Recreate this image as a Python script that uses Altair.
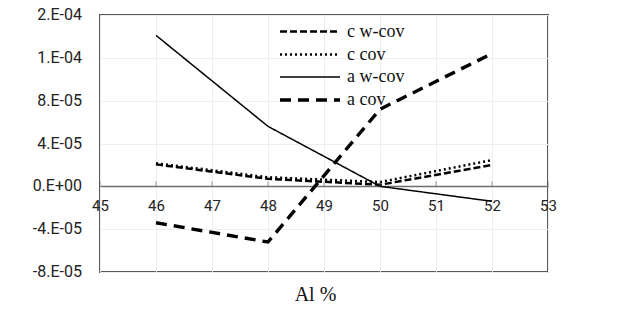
import altair as alt
import pandas as pd

x_vals = [46, 48, 50, 52]
c_wcov = [2.05e-5, 7.0e-6, 1.5e-6, 2.0e-5]
c_cov = [2.15e-5, 8.5e-6, 4.0e-6, 2.45e-5]
a_wcov = [1.41e-4, 5.6e-5, 0.0, -1.4e-5]
a_cov = [-3.4e-5, -5.2e-5, 7.2e-5, 1.24e-4]

series_names = ["c w-cov", "c cov", "a w-cov", "a cov"]
series_data = [c_wcov, c_cov, a_wcov, a_cov]

y_ticks = [-8e-5, -4e-5, 0.0, 4e-5, 8e-5, 1.2e-4, 1.6e-4]
y_labels = ["-8.E-05", "-4.E-05", "0.E+00", "4.E-05", "8.E-05", "1.E-04", "2.E-04"]
x_ticks = [45, 46, 47, 48, 49, 50, 51, 52, 53]

rows = []
for name, vals in zip(series_names, series_data):
    for xv, yv in zip(x_vals, vals):
        rows.append({"Al": xv, "v": yv, "series": name})
df = pd.DataFrame(rows)

dash_range = [[7, 3], [2, 3], [1, 0], [11, 7]]
width_range = [2.5, 2.5, 1.5, 3.4]

xscale = alt.Scale(domain=[45, 53], nice=False, zero=False)
yscale = alt.Scale(domain=[-8e-5, 1.6e-4], nice=False)

x_axis = alt.Axis(values=x_ticks, title="Al %", offset=-86, grid=True,
                  gridColor="#eeeeee", domainColor="#6e6e6e", domainWidth=1.6,
                  ticks=False, labelFont="Roboto", labelFontSize=15,
                  labelColor="#222222", labelPadding=12, labelFlush=False,
                  titleFont="Liberation Serif", titleFontSize=20,
                  titleFontWeight="normal", titleColor="#111111",
                  titlePadding=71, titleX=215, format="d")
y_axis = alt.Axis(values=y_ticks, title=None, grid=True, gridColor="#eeeeee",
                  domain=False, ticks=False, labels=False)

legend_kw = dict(title=None, orient="none", legendX=198, legendY=5,
                 symbolType="M-3,0H3", symbolSize=400, symbolStrokeColor="black",
                 labelFont="Liberation Serif", labelFontSize=18, labelColor="#111111",
                 labelOffset=25, rowPadding=2, labelLimit=200)

lines = alt.Chart(df).mark_line(color="black").encode(
    x=alt.X("Al:Q", scale=xscale, axis=x_axis),
    y=alt.Y("v:Q", scale=yscale, axis=y_axis),
    strokeDash=alt.StrokeDash("series:N",
                              scale=alt.Scale(domain=series_names, range=dash_range),
                              legend=alt.Legend(**legend_kw)),
    strokeWidth=alt.StrokeWidth("series:N",
                                scale=alt.Scale(type="ordinal", domain=series_names,
                                                range=width_range),
                                legend=alt.Legend(**legend_kw)),
    order=alt.Order("Al:Q"),
)

tick_df = pd.DataFrame({"Al": x_ticks, "v": [0.0] * len(x_ticks)})
ticks = alt.Chart(tick_df).mark_tick(orient="vertical", size=5, thickness=1,
                                     color="#6e6e6e", yOffset=-2.5).encode(
    x=alt.X("Al:Q", scale=xscale, axis=x_axis),
    y=alt.Y("v:Q", scale=yscale, axis=y_axis),
)

ylab_df = pd.DataFrame({"Al": [45] * len(y_ticks), "v": y_ticks, "lab": y_labels})
ylabels = alt.Chart(ylab_df).mark_text(align="right", baseline="middle", dx=-18,
                                       font="Roboto", fontSize=16,
                                       color="#222222").encode(
    x=alt.X("Al:Q", scale=xscale, axis=x_axis),
    y=alt.Y("v:Q", scale=yscale, axis=y_axis),
    text="lab:N",
)

chart = alt.layer(lines, ticks, ylabels).properties(
    width=448, height=257,
    padding={"left": 100, "top": 15, "right": 70, "bottom": 52},
    autosize=alt.AutoSizeParams(type="none"),
    background="white",
).configure_view(stroke="#595959", strokeWidth=2)

chart.save("out.html", embed_options={"renderer": "svg", "actions": False})
